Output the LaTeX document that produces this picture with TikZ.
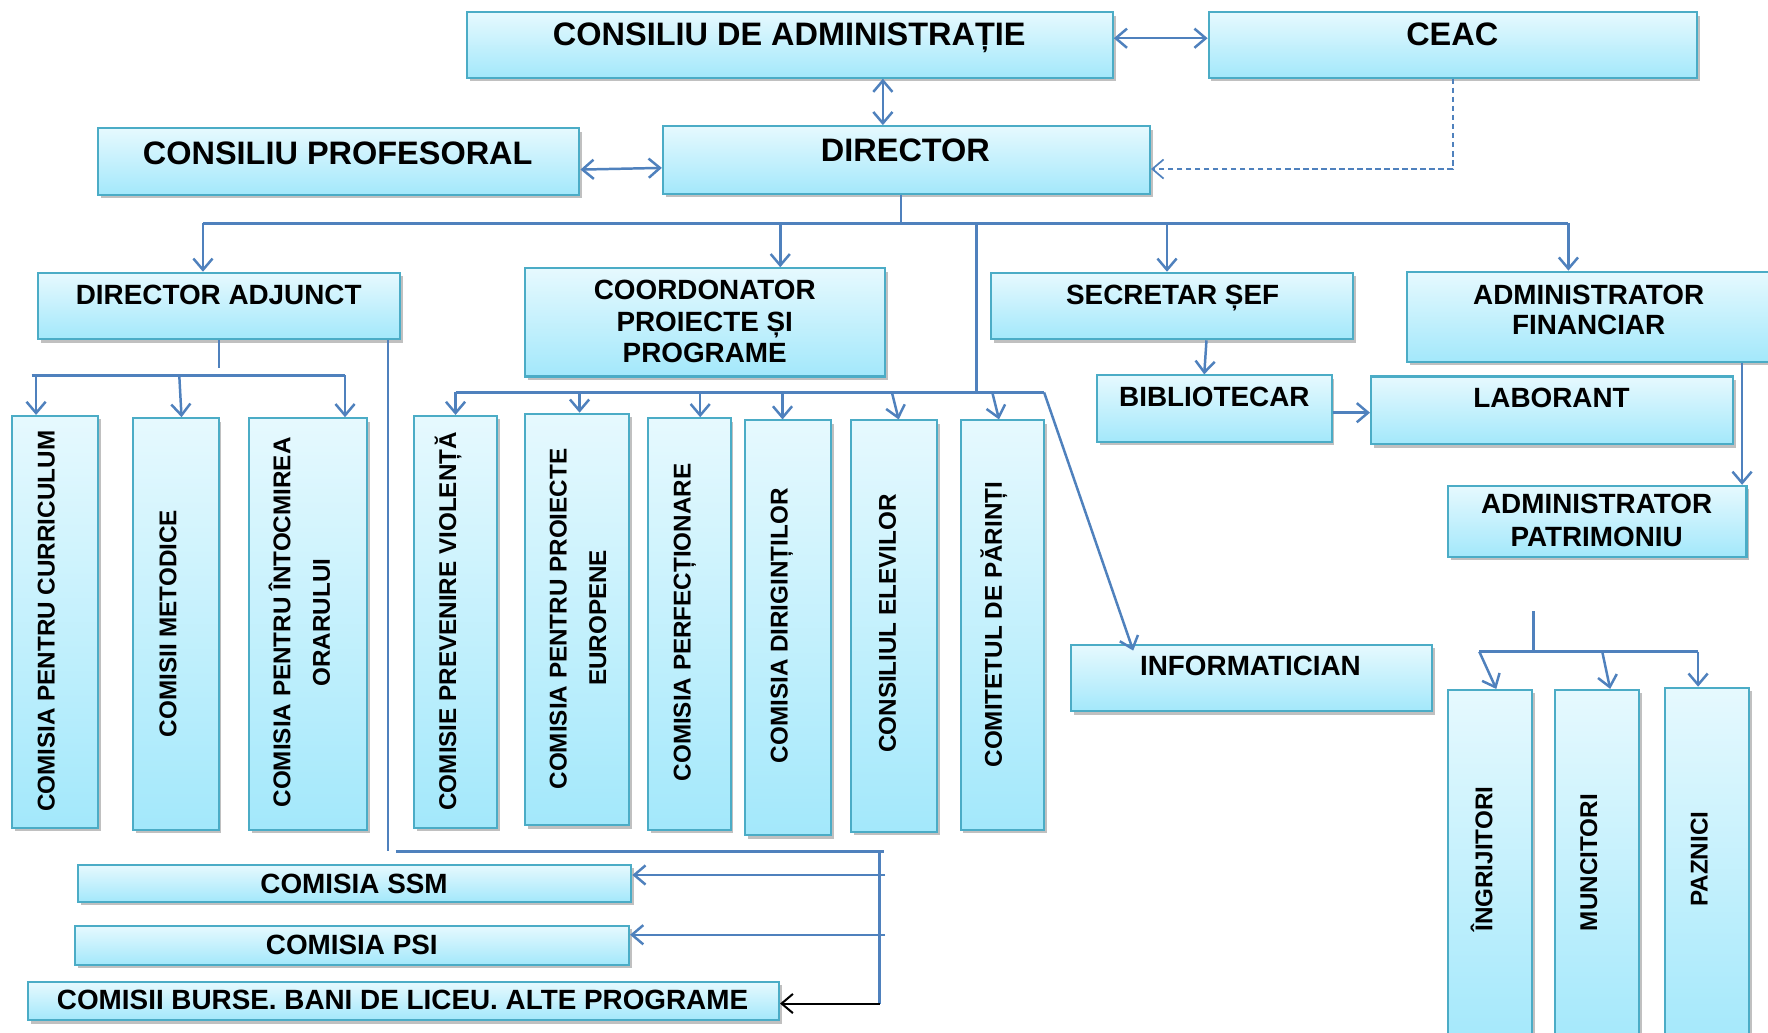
\documentclass[tikz,border=0pt]{standalone}
\usepackage{fontspec}
\setmainfont{Liberation Sans}
\usetikzlibrary{arrows.meta,shadows}
\definecolor{boxborder}{RGB}{75,172,198}
\definecolor{boxtop}{RGB}{230,249,254}
\definecolor{boxbot}{RGB}{163,232,251}
\definecolor{conncol}{RGB}{79,129,189}
\tikzset{
  orgbox/.style={draw=boxborder, line width=1.8pt, top color=boxtop, bottom color=boxbot,
    inner sep=0pt, anchor=north west,
    drop shadow={shadow xshift=2.5pt, shadow yshift=-3pt, opacity=0.35, fill=black!70}},
  ttop/.style={font=\fontsize{28.8}{32}\selectfont\bfseries, inner sep=0pt, text height=20.2pt, text depth=0pt},
  tmid/.style={font=\fontsize{24.7}{28}\selectfont\bfseries, inner sep=0pt, text height=17.3pt, text depth=0pt},
  tvert/.style={font=\fontsize{21.5}{25}\selectfont\bfseries, inner sep=0pt, text height=15pt, text depth=0pt, rotate=90},
  conn/.style={draw=conncol, line width=2.2pt},
  barb/.style={-{Straight Barb[length=10pt,width=17pt]}},
  bbarb/.style={{Straight Barb[length=10pt,width=17pt]}-{Straight Barb[length=10pt,width=17pt]}}
}
\newcommand\orgnode[5]{\node[orgbox, minimum width={(#4-#2)*1pt}, minimum height={(#5-#3)*1pt}] (#1) at (#2,#3) {};}
\begin{document}
\begin{tikzpicture}[x=1pt,y=-1pt]
\useasboundingbox (0,0) rectangle (1568,916);
\fill[white] (0,0) rectangle (1568,916);
% boxes
\orgnode{cda}{413}{10}{986}{68}
\orgnode{ceac}{1071}{10}{1504}{68}
\orgnode{cp}{86}{113}{513}{172}
\orgnode{dir}{587}{111}{1019}{171}
\orgnode{da}{33}{241}{354}{300}
\orgnode{coord}{465}{237}{784}{333}
\orgnode{sec}{878}{241}{1199}{300}
\orgnode{admfin}{1247}{240}{1576}{320}
\orgnode{curr}{10}{368}{86}{733}
\orgnode{metod}{117}{370}{193}{735}
\orgnode{orar}{220}{370}{325}{735}
\orgnode{viol}{366}{368}{440}{733}
\orgnode{euro}{465}{366}{557}{731}
\orgnode{perf}{574}{370}{647}{735}
\orgnode{dirig}{660}{372}{736}{740}
\orgnode{elev}{754}{372}{830}{737}
\orgnode{parinti}{851}{372}{925}{735}
\orgnode{biblio}{972}{332}{1180}{391}
\orgnode{lab}{1215}{333}{1536}{393}
\orgnode{admpat}{1283}{430}{1548}{493}
\orgnode{info}{949}{571}{1269}{630}
\orgnode{ingr}{1283}{611}{1358}{930}
\orgnode{munc}{1378}{611}{1453}{930}
\orgnode{pazn}{1476}{609}{1550}{930}
\orgnode{ssm}{68}{766}{559}{799}
\orgnode{psi}{66}{820}{557}{855}
\orgnode{burse}{24}{870}{690}{904}
% texts
\node[ttop] (cdaT) at (700,30) {CONSILIU DE ADMINISTRAȚIE};
\node[ttop] (ceacT) at (1288,30) {CEAC};
\node[ttop] (cpT) at (299.5,136) {CONSILIU PROFESORAL};
\node[ttop] (dirT) at (803,133) {DIRECTOR};
\node[tmid] (daT) at (194,261) {DIRECTOR ADJUNCT};
\node[tmid] (coordT1) at (625,257) {COORDONATOR};
\node[tmid] (coordT2) at (625,285) {PROIECTE ȘI};
\node[tmid] (coordT3) at (625,313) {PROGRAME};
\node[tmid] (secT) at (1040,261) {SECRETAR ȘEF};
\node[tmid] (admfinT1) at (1409,261) {ADMINISTRATOR};
\node[tmid] (admfinT2) at (1409,288) {FINANCIAR};
\node[tmid] (biblioT) at (1077,352) {BIBLIOTECAR};
\node[tmid] (labT) at (1376,353) {LABORANT};
\node[tmid] (admpatT1) at (1416,447) {ADMINISTRATOR};
\node[tmid] (admpatT2) at (1416,476) {PATRIMONIU};
\node[tmid] (infoT) at (1109,590) {INFORMATICIAN};
\node[tmid] (ssmT) at (314,784) {COMISIA SSM};
\node[tmid] (psiT) at (312,838) {COMISIA PSI};
\node[tmid] (burseT) at (357,887) {COMISII BURSE. BANI DE LICEU. ALTE PROGRAME};
\node[tvert] (currT) at (41,551) {COMISIA PENTRU CURRICULUM};
\node[tvert] (metodT) at (149,553) {COMISII METODICE};
\node[tvert] (orarT1) at (250,552) {COMISIA PENTRU ÎNTOCMIREA};
\node[tvert] (orarT2) at (285,552) {ORARULUI};
\node[tvert] (violT) at (397,551) {COMISIE PREVENIRE VIOLENȚĂ};
\node[tvert] (euroT1) at (495,549) {COMISIA PENTRU PROIECTE};
\node[tvert] (euroT2) at (530,548) {EUROPENE};
\node[tvert] (perfT) at (605,552) {COMISIA PERFECȚIONARE};
\node[tvert] (dirigT) at (691,555) {COMISIA DIRIGINȚILOR};
\node[tvert] (elevT) at (787,553) {CONSILIUL ELEVILOR};
\node[tvert] (parT) at (881,554) {COMITETUL DE PĂRINȚI};
\node[tvert] (ingrT) at (1316,762) {ÎNGRIJITORI};
\node[tvert] (muncT) at (1409,765) {MUNCITORI};
\node[tvert] (paznT) at (1507,762) {PAZNICI};
% top connectors
\coordinate (xA) at (783,0);
\draw[conn,bbarb] (cda.south -| xA) -- (dir.north -| xA);
\draw[conn,bbarb] ([yshift=6pt]cda.east) -- ([yshift=6pt]ceac.west);
\draw[conn,bbarb] ([yshift=-7pt]cp.east) -- ([yshift=-7pt]dir.west);
\draw[draw=conncol, line width=1.5pt, dash pattern=on 5pt off 3pt, barb] (ceac.south) |- ([yshift=-8pt]dir.east);
% director tree
\coordinate (jd) at (799,198);
\coordinate (b1) at (180,198);
\coordinate (b2) at (692,198);
\coordinate (b3) at (1035,198);
\coordinate (b4) at (1391,198);
\coordinate (b5) at (866,198);
\draw[conn] (dir.south -| jd) -- (jd);
\draw[conn] (b1) -- (b4);
\draw[conn,barb] (b1) -- (da.north -| b1);
\draw[conn,barb] (b2) -- (coord.north -| b2);
\draw[conn,barb] (b3) -- (sec.north -| b3);
\draw[conn,barb] (b4) -- (admfin.north -| b4);
% middle bar
\coordinate (m0) at (866,348);
\coordinate (mL) at (404,348);
\coordinate (mR) at (926,348);
\coordinate (v2) at (514,348);
\coordinate (v3) at (621,348);
\coordinate (v4) at (694,348);
\coordinate (v5) at (791,348);
\coordinate (v6) at (880,348);
\coordinate (t5) at (797,0);
\coordinate (t6) at (886,0);
\coordinate (ti) at (1005,0);
\draw[conn] (b5) -- (m0);
\draw[conn] (mL) -- (mR);
\draw[conn,barb] (mL) -- (viol.north -| mL);
\draw[conn,barb] (v2) -- (euro.north -| v2);
\draw[conn,barb] (v3) -- (perf.north -| v3);
\draw[conn,barb] (v4) -- (dirig.north -| v4);
\draw[conn,barb] (v5) -- (elev.north -| t5);
\draw[conn,barb] (v6) -- (parinti.north -| t6);
\draw[conn,barb] (mR) -- ([yshift=-6pt]info.north -| ti);
% director adjunct subtree
\coordinate (ds) at (194,326);
\coordinate (dL) at (28,333);
\coordinate (dR) at (306,333);
\coordinate (d1) at (32,333);
\coordinate (d2) at (159,333);
\coordinate (d2e) at (161,0);
\draw[conn] (da.south -| ds) -- (ds);
\draw[conn] (dL) -- (dR);
\draw[conn,barb] (d1) -- (curr.north -| d1);
\draw[conn,barb] (d2) -- (metod.north -| d2e);
\draw[conn,barb] (dR) -- (orar.north -| dR);
% lower commissions
\coordinate (dv) at (344,755);
\coordinate (hL) at (351,755);
\coordinate (hR) at (784,755);
\coordinate (rv) at (780,755);
\coordinate (rvb) at (780,890);
\coordinate (sR) at (785,776);
\coordinate (pR) at (785,829);
\draw[conn] (da.south -| dv) -- (dv);
\draw[conn] (hL) -- (hR);
\draw[conn] (rv) -- (rvb);
\draw[conn,barb] (sR) -- (ssm.east |- sR);
\draw[conn,barb] (pR) -- (psi.east |- pR);
\draw[draw=black, line width=1.8pt, barb] (rvb) -- (burse.east |- rvb);
% right side
\coordinate (s1) at (1070,0);
\coordinate (s2) at (1068,0);
\coordinate (yb) at (0,366);
\coordinate (af) at (1545,0);
\draw[conn,barb] (sec.south -| s1) -- (biblio.north -| s2);
\draw[conn,barb] (biblio.east |- yb) -- (lab.west |- yb);
\draw[conn,barb] (admfin.south -| af) -- (admpat.north -| af);
\coordinate (st) at (1360,542);
\coordinate (stb) at (1360,578);
\coordinate (gL) at (1312,578);
\coordinate (gM) at (1421,578);
\coordinate (gR) at (1506,578);
\coordinate (tI) at (1327,0);
\coordinate (tM) at (1428,0);
\draw[conn] (st) -- (stb);
\draw[conn] (gL) -- (gR);
\draw[conn,barb] (gL) -- (ingr.north -| tI);
\draw[conn,barb] (gM) -- (munc.north -| tM);
\draw[conn,barb] (gR) -- (pazn.north -| gR);
\end{tikzpicture}
\end{document}
